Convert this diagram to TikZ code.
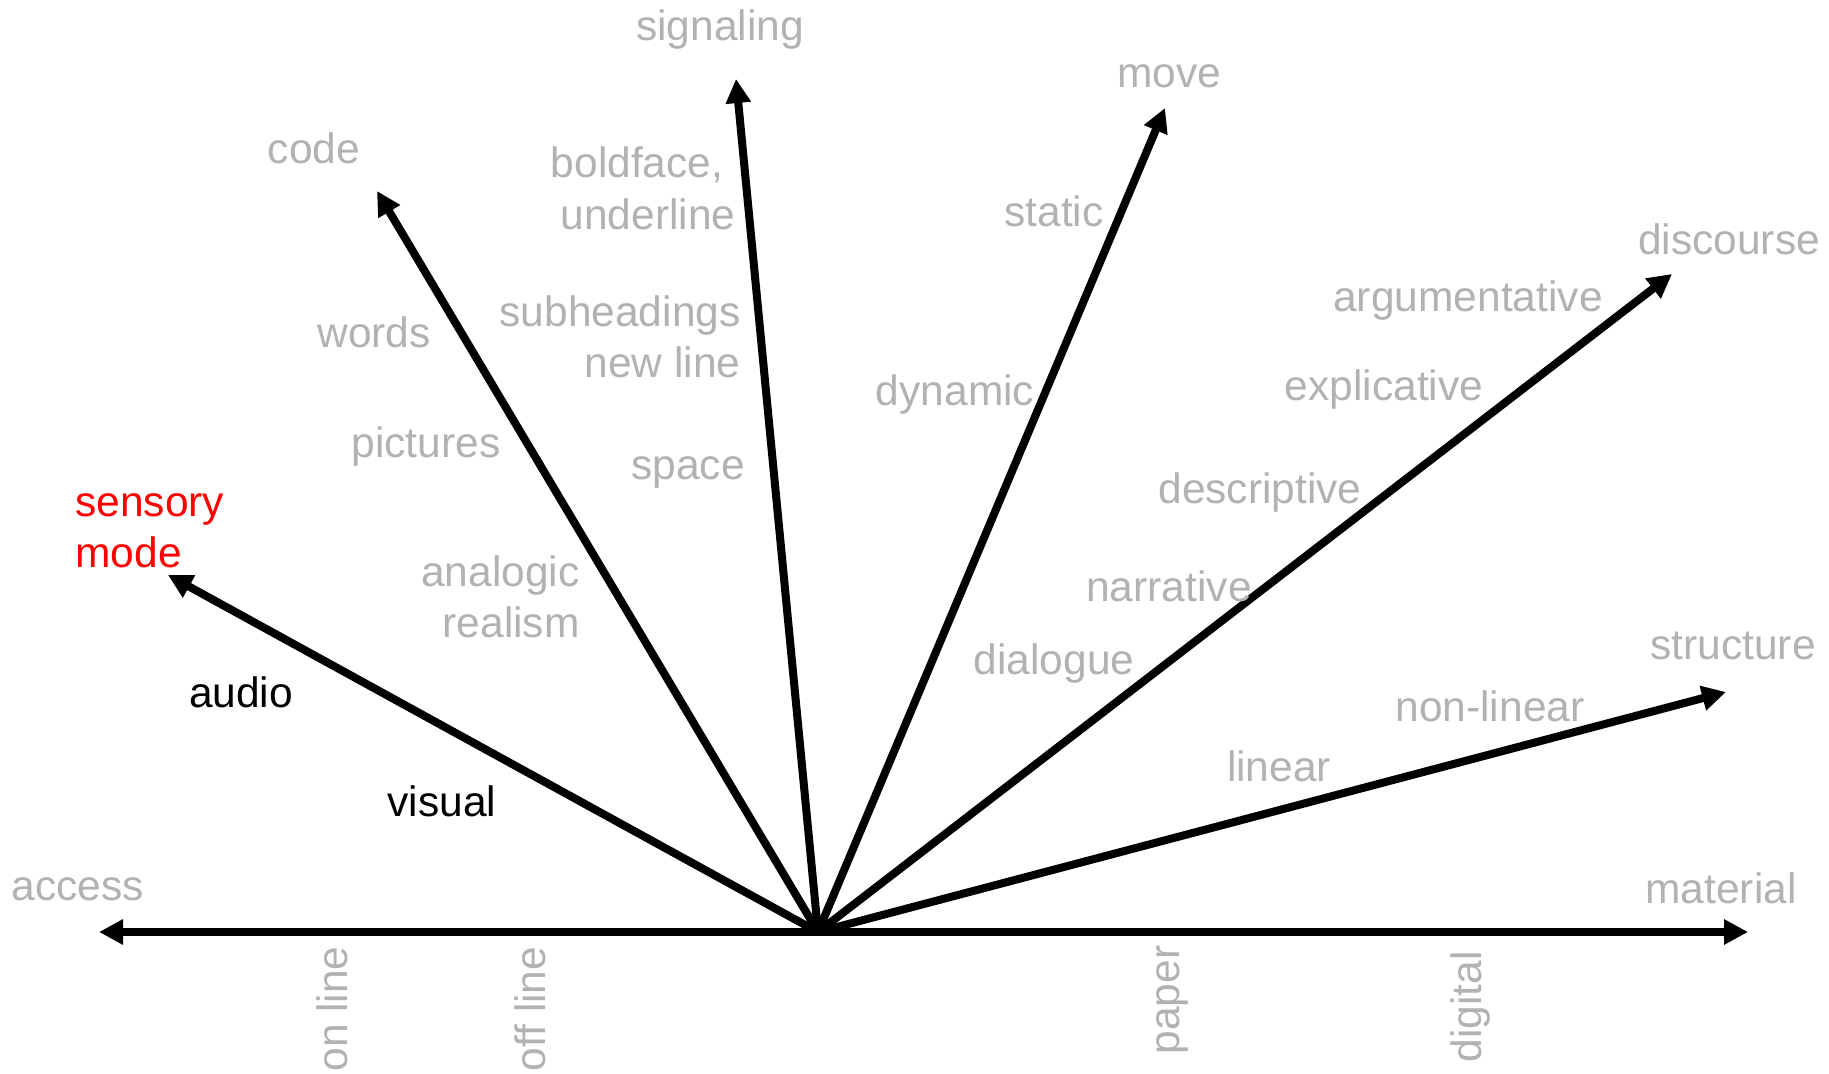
\documentclass[tikz,border=0pt]{standalone}
\usepackage{fontspec}
\setmainfont{Liberation Sans}
\usetikzlibrary{arrows.meta}
\definecolor{lbl}{RGB}{178,178,178}
\definecolor{redlbl}{RGB}{255,0,0}
\begin{document}
\begin{tikzpicture}[x=0.5pt,y=-0.5pt,
  lab/.style={text=lbl,inner sep=0pt,font=\fontsize{21.25}{25.5}\selectfont},
  blk/.style={text=black,inner sep=0pt,font=\fontsize{21.25}{25.5}\selectfont},
  rlab/.style={text=redlbl,inner sep=0pt,font=\fontsize{21.25}{25.5}\selectfont},
  ray/.style={line width=4pt,-{Triangle[length=12pt,width=12pt]}},
  axis/.style={line width=4pt,{Triangle[length=12pt,width=12pt]}-{Triangle[length=12pt,width=12pt]}}]
\useasboundingbox (0,0) rectangle (1829,1074);
\fill[white] (0,0) rectangle (1829,1074);
% coordinates
\coordinate (O) at (818,932);
\coordinate (tL) at (99,932);
\coordinate (tR) at (1748,932);
\coordinate (tSens) at (168,575);
\coordinate (tCode) at (377,191);
\coordinate (tSig) at (736,79);
\coordinate (tMove) at (1165,108);
\coordinate (tDisc) at (1672,274);
\coordinate (tStruct) at (1726,692);
% arrows
\draw[axis] (tL) -- (tR);
\draw[ray] (O) -- (tSens);
\draw[ray] (O) -- (tCode);
\draw[ray] (O) -- (tSig);
\draw[ray] (O) -- (tMove);
\draw[ray] (O) -- (tDisc);
\draw[ray] (O) -- (tStruct);
% labels
\node[lab] (signaling) at (720,30) {signaling};
\node[lab] (move) at (1169,76) {move};
\node[lab] (code) at (314,148) {code};
\node[lab] (boldface) at (637,165) {boldface,};
\node[lab] (underline) at (648,214) {underline};
\node[lab] (static) at (1054,211) {static};
\node[lab] (discourse) at (1729,239) {discourse};
\node[lab] (argumentative) at (1468,301) {argumentative};
\node[lab] (words) at (374,332) {words};
\node[lab,anchor=east] (subheadings) at (741,316) {subheadings};
\node[lab,anchor=east] (newline) at (741,362) {new line};
\node[lab] (dynamic) at (955,395) {dynamic};
\node[lab] (explicative) at (1384,390) {explicative};
\node[lab] (pictures) at (426,447) {pictures};
\node[lab] (space) at (688,472) {space};
\node[lab] (descriptive) at (1260,493) {descriptive};
\node[rlab,anchor=west] (sensory) at (75,509) {sensory};
\node[rlab,anchor=west] (mode) at (75,552) {mode};
\node[lab,anchor=east] (analogic) at (580,576) {analogic};
\node[lab,anchor=east] (realism) at (580,622) {realism};
\node[lab] (narrative) at (1169,586) {narrative};
\node[lab] (dialogue) at (1054,664) {dialogue};
\node[blk] (audio) at (241,692) {audio};
\node[lab] (structure) at (1733,646) {structure};
\node[lab] (nonlinear) at (1490,706) {non-linear};
\node[lab] (linear) at (1279,766) {linear};
\node[blk] (visual) at (442,801) {visual};
\node[lab] (access) at (78,889) {access};
\node[lab] (material) at (1721,888) {material};
\node[lab,rotate=90] (online) at (332,1009) {on line};
\node[lab,rotate=90] (offline) at (530,1009) {off line};
\node[lab,rotate=90] (paper) at (1172,1000) {paper};
\node[lab,rotate=90] (digital) at (1470,1007) {digital};
\end{tikzpicture}
\end{document}
